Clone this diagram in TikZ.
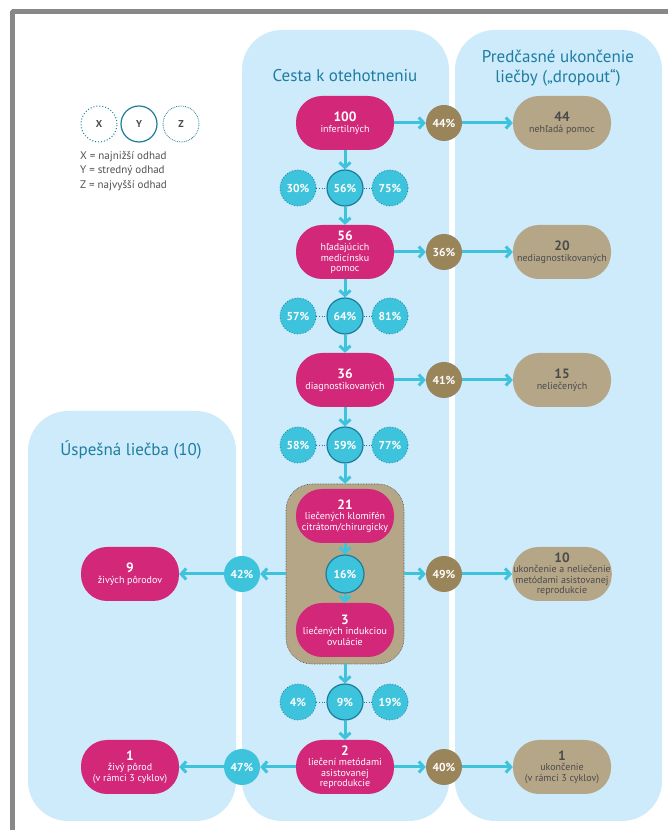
\documentclass[tikz,border=0pt]{standalone}
\usepackage{fontspec}
\setmainfont{PT Sans}
\usepackage[x11names, rgb]{xcolor}
\usepackage{tikz}
\usetikzlibrary{arrows.meta,shapes}

\definecolor{lanecol}{RGB}{205,235,250}
\definecolor{pinkcol}{RGB}{211,39,122}
\definecolor{tancol}{RGB}{181,166,136}
\definecolor{tantext}{RGB}{75,75,75}
\definecolor{browncol}{RGB}{154,132,89}
\definecolor{cyancol}{RGB}{62,195,220}
\definecolor{tealcol}{RGB}{27,125,155}
\definecolor{titlecol}{RGB}{30,125,160}
\definecolor{framecol}{RGB}{136,136,138}
\definecolor{keytext}{RGB}{80,80,80}

\newcommand{\bignum}[1]{{\fontsize{13.5bp}{15bp}\selectfont\bfseries #1}}

\begin{document}
\begin{tikzpicture}[>={Straight Barb[length=5bp,width=11bp]},line join=bevel,
  lane/.style={fill=lanecol,rounded corners=40bp},
  title/.style={text=titlecol,font=\fontsize{17bp}{20bp}\selectfont,align=center},
  pinkbox/.style={fill=pinkcol,text=white,rounded corners=26bp,minimum width=98bp,
    minimum height=54bp,align=center,inner sep=1bp,font=\fontsize{10bp}{10.5bp}\selectfont},
  tanbox/.style={pinkbox,fill=tancol,text=tantext},
  pct/.style={circle,fill=cyancol,text=white,minimum size=36bp,inner sep=0pt,
    font=\fontsize{11.5bp}{12bp}\selectfont\bfseries},
  pctmid/.style={pct,draw=tealcol,line width=1.2bp},
  pctside/.style={pct,draw=tealcol,line width=0.8bp,dotted},
  drop/.style={pct,fill=browncol},
  keyring/.style={circle,fill=white,draw=tealcol,minimum size=36bp,inner sep=0pt,
    text=tantext,font=\fontsize{10bp}{12bp}\selectfont\bfseries},
  flow/.style={draw=cyancol,line width=3bp,->},
  link/.style={draw=tealcol,line width=0.6bp,dotted},
]
\useasboundingbox (0,0) rectangle (668bp,830bp);
%%
  % frame
  \draw[framecol,line width=5bp] (12bp,0bp) -- (12bp,818bp) -- (668bp,818bp);
  % lanes
  \fill[lane] (28bp,9bp) rectangle (236bp,419bp);
  \fill[lane] (242bp,9bp) rectangle (449bp,800bp);
  \fill[lane] (455bp,9bp) rectangle (662bp,800bp);
  \node[title] (tpath) at (345bp,754bp) {Cesta k otehotneniu};
  \node[title] (tdrop) at (558bp,762bp) {Predčasné ukončenie\\liečby („dropout“)};
  \node[title] (tok) at (131bp,380bp) {Úspešná liečba (10)};
  % Node: legend
  \node[keyring,dotted,line width=1bp] (kx) at (99bp,706bp) {X};
  \node[keyring,line width=1.2bp] (ky) at (139bp,706bp) {Y};
  \node[keyring,densely dotted,line width=0.8bp] (kz) at (181bp,706bp) {Z};
  \node[anchor=north west,align=left,inner sep=0pt,text=keytext,
    font=\fontsize{11bp}{14.5bp}\selectfont] (key) at (80bp,679bp)
    {X = najnižší odhad\\Y = stredný odhad\\Z = najvyšší odhad};
  % Node: main path
  \node[pinkbox] (n100) at (345bp,707bp) {\bignum{100}\\infertilných};
  \node[pctside] (c1x) at (298bp,642bp) {30\%};
  \node[pctmid] (c1y) at (345bp,642bp) {56\%};
  \node[pctside] (c1z) at (390bp,642bp) {75\%};
  \node[pinkbox] (n56) at (345bp,578bp) {\bignum{56}\\hľadajúcich\\medicínsku\\pomoc};
  \node[pctside] (c2x) at (298bp,514bp) {57\%};
  \node[pctmid] (c2y) at (345bp,514bp) {64\%};
  \node[pctside] (c2z) at (390bp,514bp) {81\%};
  \node[pinkbox] (n36) at (345bp,450bp) {\bignum{36}\\diagnostikovaných};
  \node[pctside] (c3x) at (298bp,385bp) {58\%};
  \node[pctmid] (c3y) at (345bp,385bp) {59\%};
  \node[pctside] (c3z) at (390bp,385bp) {77\%};
  \node[fill=tancol,draw=tantext,densely dotted,line width=0.6bp,rounded corners=26bp,
    minimum width=118bp,minimum height=180bp] (grp) at (345bp,256bp) {};
  \node[pinkbox] (n21) at (345bp,314bp) {\bignum{21}\\liečených klomifén\\citrátom/chirurgicky};
  \node[pctmid,minimum size=38bp] (p16) at (345bp,256bp) {16\%};
  \node[pinkbox] (n3) at (345bp,200bp) {\bignum{3}\\liečených indukciou\\ovulácie};
  \node[pctside] (c4x) at (298bp,128bp) {4\%};
  \node[pctmid] (c4y) at (345bp,128bp) {9\%};
  \node[pctside] (c4z) at (390bp,128bp) {19\%};
  \node[pinkbox] (n2) at (345bp,63bp) {\bignum{2}\\liečení metódami\\asistovanej\\reprodukcie};
  % Node: success
  \node[pct] (p42) at (242bp,256bp) {42\%};
  \node[pinkbox] (n9) at (130bp,256bp) {\bignum{9}\\živých pôrodov};
  \node[pct] (p47) at (242bp,63bp) {47\%};
  \node[pinkbox] (n1) at (130bp,63bp) {\bignum{1}\\živý pôrod\\(v rámci 3 cyklov)};
  % Node: dropout
  \node[drop] (p44) at (444bp,707bp) {44\%};
  \node[tanbox] (d44) at (562bp,707bp) {\bignum{44}\\nehľadá pomoc};
  \node[drop] (p36) at (444bp,578bp) {36\%};
  \node[tanbox] (d20) at (562bp,578bp) {\bignum{20}\\nediagnostikovaných};
  \node[drop] (p41) at (444bp,450bp) {41\%};
  \node[tanbox] (d15) at (562bp,450bp) {\bignum{15}\\neliečených};
  \node[drop] (p49) at (444bp,256bp) {49\%};
  \node[tanbox] (d10) at (562bp,256bp) {\bignum{10}\\ukončenie a neliečenie\\metódami asistovanej\\reprodukcie};
  \node[drop] (p40) at (444bp,63bp) {40\%};
  \node[tanbox] (d1) at (562bp,63bp) {\bignum{1}\\ukončenie\\(v rámci 3 cyklov)};
  % Edge: estimates
  \draw[link] (c1x) -- (c1y) -- (c1z);
  \draw[link] (c2x) -- (c2y) -- (c2z);
  \draw[link] (c3x) -- (c3y) -- (c3z);
  \draw[link] (c4x) -- (c4y) -- (c4z);
  % Edge: down the path
  \draw[flow] (n100) -- (c1y);
  \draw[flow] (c1y) -- (n56);
  \draw[flow] (n56) -- (c2y);
  \draw[flow] (c2y) -- (n36);
  \draw[flow] (n36) -- (c3y);
  \draw[flow] (c3y) -- (grp);
  \draw[flow] (n21) -- (p16);
  \draw[flow] (p16) -- (n3);
  \draw[flow] (grp) -- (c4y);
  \draw[flow] (c4y) -- (n2);
  % Edge: dropout
  \draw[flow] (n100) -- (p44);
  \draw[flow] (p44) -- (d44);
  \draw[flow] (n56) -- (p36);
  \draw[flow] (p36) -- (d20);
  \draw[flow] (n36) -- (p41);
  \draw[flow] (p41) -- (d15);
  \draw[flow] (grp) -- (p49);
  \draw[flow] (p49) -- (d10);
  \draw[flow] (n2) -- (p40);
  \draw[flow] (p40) -- (d1);
  % Edge: success
  \draw[flow] (grp) -- (p42);
  \draw[flow] (p42) -- (n9);
  \draw[flow] (n2) -- (p47);
  \draw[flow] (p47) -- (n1);
%
\end{tikzpicture}
\end{document}
